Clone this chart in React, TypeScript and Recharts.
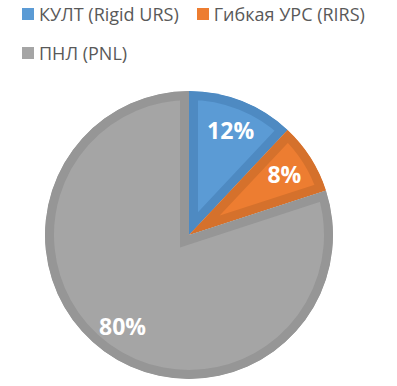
import { PieChart, Pie, Cell, Legend, Sector } from "recharts"

const categories = ["КУЛТ (Rigid URS)", "Гибкая УРС (RIRS)", "ПНЛ (PNL)"]
const shares = [12, 8, 80]
const fills = ["#5B9BD5", "#ED7D31", "#A5A5A5"]
const borders = ["#4E8AC2", "#D5712C", "#969696"]

const data = categories.map((name, i) => ({ name, value: shares[i] }))

const RADIAN = Math.PI / 180
const LEGEND_H = 78

// sector with the border drawn only on the inside, like the office chart
const InsetSector = (props: any) => {
  const { cx, cy, innerRadius, outerRadius, startAngle, endAngle, fill, stroke } = props
  const id = `slice-clip-${Math.round(startAngle * 10)}`
  const geom = { cx, cy, innerRadius, outerRadius, startAngle, endAngle }
  return (
    <g>
      <defs>
        <clipPath id={id}>
          <Sector {...geom} />
        </clipPath>
      </defs>
      <g clipPath={`url(#${id})`}>
        <Sector {...geom} fill={fill} stroke={stroke} strokeWidth={18} strokeLinejoin="miter" />
      </g>
    </g>
  )
}

const renderLabel = (props: any) => {
  const { cx, cy, midAngle, value } = props
  const r = 113
  const x = cx + r * Math.cos(-midAngle * RADIAN)
  const y = cy + r * Math.sin(-midAngle * RADIAN)
  return (
    <text
      x={x}
      y={y}
      fill="#FFFFFF"
      textAnchor="middle"
      dominantBaseline="central"
      fontFamily="'Open Sans', sans-serif"
      fontWeight={700}
      fontSize={23}
    >
      {`${value}%`}
    </text>
  )
}

const LegendContent = () => {
  return (
    <div
      style={{
        display: "flex",
        flexWrap: "wrap",
        alignContent: "flex-start",
        columnGap: 18,
        width: 397,
        height: LEGEND_H,
        paddingLeft: 22,
        boxSizing: "border-box",
      }}
    >
      {categories.map((name, i) => (
        <div
          key={name}
          style={{
            display: "flex",
            alignItems: "center",
            height: 39,
            fontFamily: "'Open Sans', sans-serif",
            fontSize: 18,
            color: "#595959",
            whiteSpace: "nowrap",
          }}
        >
          <span
            style={{
              display: "inline-block",
              width: 12,
              height: 12,
              background: fills[i],
              marginRight: 5,
            }}
          />
          <span>{name}</span>
        </div>
      ))}
    </div>
  )
}

export default function App() {
  return (
    <div style={{ position: "absolute", left: 0, top: 0, background: "#FFFFFF" }}>
      <PieChart width={397} height={386} margin={{ top: 0, right: 0, bottom: 0, left: 0 }}>
        <Legend
          verticalAlign="top"
          align="left"
          content={<LegendContent />}
          wrapperStyle={{ top: -6, left: 0 }}
        />
        <Pie
          data={data}
          dataKey="value"
          nameKey="name"
          cx={189}
          cy={235 - LEGEND_H}
          innerRadius={0}
          outerRadius={144}
          startAngle={90}
          endAngle={-270}
          label={renderLabel}
          labelLine={false}
          shape={InsetSector}
          isAnimationActive={false}
        >
          {data.map((d, i) => (
            <Cell key={d.name} fill={fills[i]} stroke={borders[i]} />
          ))}
        </Pie>
      </PieChart>
    </div>
  )
}
